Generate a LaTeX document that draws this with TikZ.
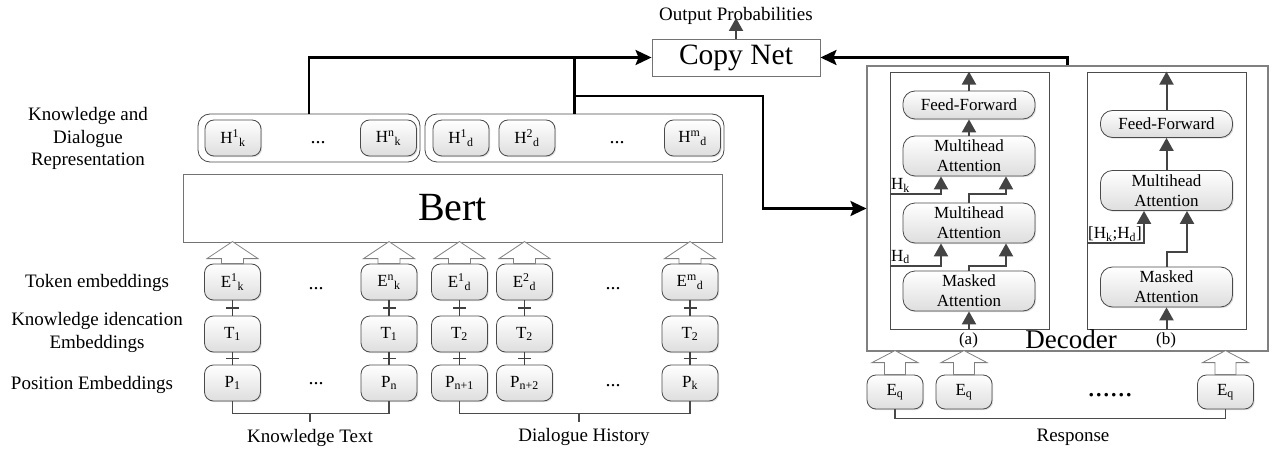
\documentclass[tikz,border=0pt]{standalone}
\usepackage{fontspec}
\setmainfont{Liberation Serif}
\usetikzlibrary{arrows.meta,shadows,calc}

\definecolor{edge}{HTML}{4A4A4A}
\definecolor{flowgray}{HTML}{444444}

\newcommand{\lblfont}{\fontsize{19}{22.5}\selectfont}
\newcommand{\cellfont}{\fontsize{17}{19}\selectfont}
\newcommand{\decfont}{\fontsize{17}{20}\selectfont}

% hollow block arrow standing on a node: node, shaft half-width, shaft length, head half-width, head length
\newcommand{\blockup}[5]{%
  \draw[blk] ([xshift=-#2pt]#1.north) -- ++(0,-#3) -- ++({#2-#4},0) -- ++(#4,-#5)
    -- ++(#4,#5) -- ++({#2-#4},0) -- ++(0,#3) -- cycle;}

\tikzset{
  lbl/.style={font=\lblfont, align=center, inner sep=0pt},
  cell/.style={draw=edge, line width=0.8pt, rounded corners=9pt,
    minimum width=56pt, minimum height=36pt, inner sep=0pt,
    top color=white, bottom color=black!13,
    drop shadow={shadow xshift=1.2pt, shadow yshift=-1.2pt, opacity=0.25},
    font=\cellfont},
  grp/.style={draw=edge, line width=0.8pt, rounded corners=12pt, fill=white, inner sep=0pt},
  plainbox/.style={draw=black!55, line width=0.9pt, fill=white, inner sep=0pt},
  dnode/.style={cell, minimum width=132pt, minimum height=40pt, rounded corners=12pt,
    align=center, font=\decfont},
  link/.style={line width=2.6pt, black, -{Stealth[length=16pt,width=15pt,inset=3pt]}},
  linkplain/.style={line width=2.6pt, black},
  flow/.style={line width=2pt, flowgray, -{Triangle[length=13pt,width=14pt]}},
  bracket/.style={line width=1.6pt, edge},
  blk/.style={draw=black!50, line width=0.8pt, fill=white},
  plusbar/.style={line width=1.3pt, black!75},
  dots/.style={font=\fontsize{20}{22}\selectfont, inner sep=0pt, anchor=base},
}

\begin{document}
\begin{tikzpicture}[x=1pt,y=-1pt]
\useasboundingbox (0,0) rectangle (1274,449);

% ---------- row captions ----------
\node[lbl] (capkd) at (88,138.5) {Knowledge and\\Dialogue\\Representation};
\node[lbl,anchor=base] (captok) at (97,287) {Token embeddings};
\node[lbl] (capki) at (97,332.7) {Knowledge idencation\\Embeddings};
\node[lbl,anchor=base] (cappos) at (92,389.3) {Position Embeddings};

% ---------- output representations ----------
\node[grp, minimum width=222pt, minimum height=48pt] (g1) at (309,138) {};
\node[grp, minimum width=299pt, minimum height=48pt] (g2) at (574.5,138) {};
\node[cell] (h1k) at (233,138) {H\textsuperscript{1}\textsubscript{k}};
\node[cell] (hnk) at (388.5,138) {H\textsuperscript{n}\textsubscript{k}};
\node[cell] (h1d) at (461,138) {H\textsuperscript{1}\textsubscript{d}};
\node[cell] (h2d) at (527,138) {H\textsuperscript{2}\textsubscript{d}};
\node[cell] (hmd) at (692.5,138) {H\textsuperscript{m}\textsubscript{d}};
\node[dots] (hdk) at (318,143.5) {...};
\node[dots] (hdd) at (617,144) {...};

% ---------- encoder ----------
\node[plainbox, minimum width=539pt, minimum height=68pt,
      font=\fontsize{40}{44}\selectfont] (bert) at (452.5,208) {Bert};

% ---------- input embeddings ----------
\foreach \nm/\xx/\etxt/\ttxt/\ptxt in {
    k1/232.5/{E\textsuperscript{1}\textsubscript{k}}/{T\textsubscript{1}}/{P\textsubscript{1}},
    kn/389/{E\textsuperscript{n}\textsubscript{k}}/{T\textsubscript{1}}/{P\textsubscript{n}},
    d1/459.5/{E\textsuperscript{1}\textsubscript{d}}/{T\textsubscript{2}}/{P\textsubscript{n+1}},
    d2/524.5/{E\textsuperscript{2}\textsubscript{d}}/{T\textsubscript{2}}/{P\textsubscript{n+2}},
    dm/690/{E\textsuperscript{m}\textsubscript{d}}/{T\textsubscript{2}}/{P\textsubscript{k}}} {
  \node[cell] (e\nm) at (\xx,282) {\etxt};
  \node[cell] (t\nm) at (\xx,334) {\ttxt};
  \node[cell] (p\nm) at (\xx,383) {\ptxt};
  \draw[plusbar] (e\nm.south) -- (t\nm.north);
  \draw[plusbar] (t\nm.south) -- (p\nm.north);
  \draw[plusbar] ($(e\nm.south)!0.5!(t\nm.north)+(-6.5,0)$) -- ++(13,0);
  \draw[plusbar] ($(t\nm.south)!0.5!(p\nm.north)+(-6.5,0)$) -- ++(13,0);
  \blockup{e\nm}{11}{5}{25.5}{17}
}
\node[dots] (edk) at (316,289) {...};
\node[dots] (pdk) at (316,384) {...};
\node[dots] (edd) at (613,289) {...};
\node[dots] (pdd) at (613,386) {...};

% ---------- segment brackets ----------
\draw[bracket] (pk1.south) -- ++(0,12) -| (pkn.south);
\coordinate (ktop) at (310,413);
\coordinate (kbot) at (310,422);
\draw[bracket] (ktop) -- (kbot);
\node[lbl,anchor=base] (ktxt) at (310,442) {Knowledge Text};

\draw[bracket] (pd1.south) -- ++(0,12) -| (pdm.south);
\coordinate (dtop) at (579,413);
\coordinate (dbot) at (579,422);
\draw[bracket] (dtop) -- (dbot);
\node[lbl,anchor=base] (dtxt) at (584,441) {Dialogue History};

% ---------- copy mechanism ----------
\node[plainbox, minimum width=168pt, minimum height=37pt,
      font=\fontsize{29.5}{32}\selectfont] (copy) at (736,57.5) {Copy Net};
\node[lbl,anchor=base] (outp) at (736,20.5) {Output Probabilities};
\coordinate (outtip) at (736,18);
\draw[flow] (copy.north) -- (outtip);

% ---------- decoder ----------
\node[plainbox, draw=black!50, line width=1.1pt, minimum width=401pt, minimum height=285pt] (dec) at (1067.5,208.5) {};
\node[plainbox, draw=black!70, line width=0.8pt, minimum width=159pt, minimum height=257pt] (boxa) at (969.5,200.5) {};
\node[plainbox, draw=black!70, line width=0.8pt, minimum width=159pt, minimum height=257pt] (boxb) at (1166.5,200.5) {};

\node[dnode, minimum height=28pt] (ffa) at (969,105) {Feed-Forward};
\node[dnode] (mhaa2) at (969,156) {Multihead\\Attention};
\node[dnode] (mhaa1) at (969,223) {Multihead\\Attention};
\node[dnode] (maska) at (969,291) {Masked\\Attention};

\node[dnode, minimum height=27pt] (ffb) at (1166.5,124) {Feed-Forward};
\node[dnode] (mhab) at (1166.5,190.5) {Multihead\\Attention};
\node[dnode] (maskb) at (1166.5,287) {Masked\\Attention};

% flow inside block (a)
\draw[flow] (boxa.south -| maska) -- (maska.south);
\draw[flow] (maska.north) -- ++(0,-5) -| ([xshift=37pt]mhaa1.south);
\coordinate (hdin) at (890,266);
\draw[flow] (hdin) -| ([xshift=-28pt]mhaa1.south);
\draw[flow] (mhaa1.north) -- ++(0,-9) -| ([xshift=37pt]mhaa2.south);
\coordinate (hkin) at (890,194);
\draw[flow] (hkin) -| ([xshift=-28pt]mhaa2.south);
\draw[flow] (mhaa2.north) -- (ffa.south);
\draw[flow] (ffa.north) -- (ffa.north |- boxa.north);
\node[font=\decfont, anchor=base west, inner sep=0pt] (hklbl) at (891,190) {H\textsubscript{k}};
\node[font=\decfont, anchor=base west, inner sep=0pt] (hdlbl) at (891,261) {H\textsubscript{d}};

% flow inside block (b)
\draw[flow] (boxb.south -| maskb) -- (maskb.south);
\draw[flow] (maskb.north) -- ++(0,-15) -| ([xshift=20.5pt]mhab.south);
\coordinate (hkdin) at (1087,243);
\draw[flow] (hkdin) -| ([xshift=-22.5pt]mhab.south);
\draw[flow] (mhab.north) -- (ffb.south);
\draw[flow] (ffb.north) -- (ffb.north |- boxb.north);
\node[font=\decfont, anchor=base west, inner sep=0pt] (hkdlbl) at (1088,239) {[H\textsubscript{k};H\textsubscript{d}]};

\node[font=\decfont, anchor=base, inner sep=0pt] (capa) at (968.5,344) {(a)};
\node[font=\decfont, anchor=base, inner sep=0pt] (capb) at (1166,344) {(b)};
\node[font=\fontsize{27}{30}\selectfont, anchor=base, inner sep=0pt] (declbl) at (1071,348) {Decoder};

% ---------- response tokens ----------
\node[cell, minimum height=34pt] (eq1) at (895,392) {E\textsubscript{q}};
\node[cell, minimum height=34pt] (eq2) at (964,392) {E\textsubscript{q}};
\node[cell, minimum height=34pt] (eq3) at (1225.5,392) {E\textsubscript{q}};
\node[font=\fontsize{30}{32}\selectfont, anchor=base, inner sep=0pt] (eqdots) at (1110,396) {......};
\blockup{eq1}{10.5}{12}{23}{12}
\blockup{eq2}{10.5}{12}{23}{12}
\blockup{eq3}{10.5}{12}{23}{12}
\draw[bracket] (eq1.south) -- ++(0,9) -| (eq3.south);
\node[lbl,anchor=base] (resp) at (1073,441) {Response};

% ---------- main connectors ----------
\draw[link] (g1.north) |- (copy.west);
\draw[linkplain] (g2.north) -- (g2.north |- copy.west);
\coordinate (j1) at (574.5,96);
\coordinate (j2) at (763,96);
\draw[link] (j1) -- (j2) |- (dec.west);
\draw[link] (dec.north) |- (copy.east);

\end{tikzpicture}
\end{document}
